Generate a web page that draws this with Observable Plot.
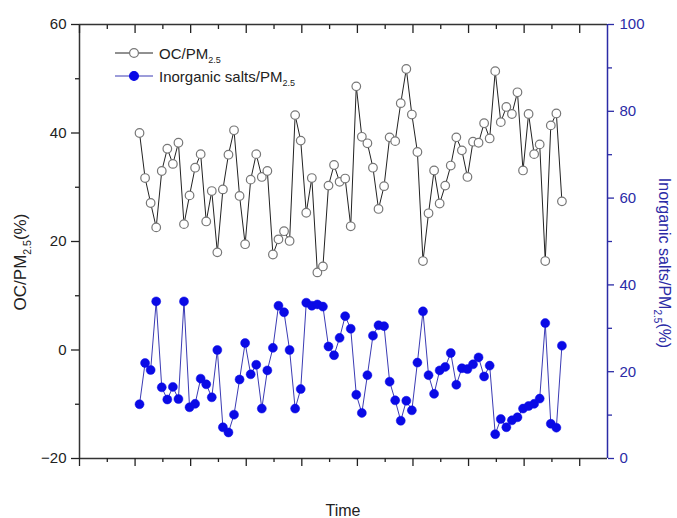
<!DOCTYPE html>
<html><head><meta charset="utf-8">
<script src="https://cdn.jsdelivr.net/npm/d3@7"></script>
<script src="https://cdn.jsdelivr.net/npm/@observablehq/plot@0.6"></script>
<style>body{margin:0;background:#fff;}#chart svg{display:block;}</style>
</head><body><div id="chart"></div>
<script>
// OC / PM2.5 (%) – left axis
const ocValues = [40.0, 31.7, 27.1, 22.6, 33.0, 37.1, 34.3, 38.2, 23.2, 28.5,
  33.6, 36.1, 23.7, 29.3, 18.0, 29.6, 36.0, 40.5, 28.4, 19.5,
  31.4, 36.1, 31.9, 33.0, 17.6, 20.4, 21.9, 20.1, 43.3, 38.6,
  25.3, 31.7, 14.3, 15.4, 30.3, 34.1, 31.0, 31.6, 22.8, 48.6,
  39.3, 38.1, 33.6, 26.0, 30.2, 39.2, 38.5, 45.5, 51.8, 43.4,
  36.5, 16.4, 25.2, 33.1, 27.0, 30.3, 34.0, 39.2, 36.8, 31.9,
  38.4, 38.2, 41.8, 39.0, 51.4, 42.0, 44.8, 43.5, 47.5, 33.1,
  43.5, 36.1, 37.9, 16.4, 41.4, 43.6, 27.4];
// Inorganic salts / PM2.5 (%) – right axis
const saltValues = [12.5, 22.0, 20.4, 36.2, 16.4, 13.6, 16.5, 13.7, 36.2, 11.8,
  12.6, 18.4, 17.1, 14.1, 25.0, 7.2, 6.0, 10.1, 18.2, 26.6,
  19.4, 21.6, 11.5, 20.3, 25.5, 35.2, 33.7, 25.0, 11.5, 16.0,
  35.9, 35.2, 35.5, 35.0, 25.8, 23.8, 27.8, 32.8, 29.9, 14.7,
  10.5, 19.2, 28.3, 30.7, 30.5, 17.7, 13.4, 8.7, 13.3, 11.1,
  22.1, 33.9, 19.2, 14.9, 20.3, 21.1, 24.3, 17.0, 20.8, 20.6,
  21.7, 23.3, 18.9, 21.4, 5.6, 9.1, 7.2, 8.8, 9.5, 11.5,
  12.1, 12.6, 13.8, 31.2, 8.0, 7.1, 26.0];
const leftTicks = [-20, 0, 20, 40, 60];
const leftMinorTicks = [-10, 10, 30, 50];
const rightTicks = [0, 20, 40, 60, 80, 100];
const rightMinorTicks = [10, 30, 50, 70, 90];
const xDomain = [-9.8, 85.2];
const xMajorTicks = d3.range(-9.8, 85, 10);
const xMinorTicks = d3.range(-4.8, 80, 10);

const leftDomain = [-20, 60];
const rightDomain = [0, 100];
const toLeft = r => leftDomain[0] + (r - rightDomain[0]) * (leftDomain[1] - leftDomain[0]) / (rightDomain[1] - rightDomain[0]);
const toRight = l => rightDomain[0] + (l - leftDomain[0]) * (rightDomain[1] - rightDomain[0]) / (leftDomain[1] - leftDomain[0]);

const oc = ocValues.map((v, i) => ({t: i + 1, v}));
const salts = saltValues.map((v, i) => ({t: i + 1, v: toLeft(v)}));

const AX = "#333";
const BLUE_AX = "#2b2ba6";
const BLUE = "#0a0ae6";
const FONT = "Arial, 'Liberation Sans', sans-serif";
const blank = () => "";

const chart = Plot.plot({
  width: 677, height: 518,
  marginLeft: 79, marginRight: 70, marginTop: 24, marginBottom: 60,
  style: {fontFamily: FONT, fontSize: "15px", color: "#222", background: "#fff"},
  x: {domain: xDomain},
  y: {domain: leftDomain},
  marks: [
    Plot.lineY(salts, {x: "t", y: "v", stroke: "#3b3bb4", strokeWidth: 1}),
    Plot.dot(salts, {x: "t", y: "v", r: 4.5, fill: BLUE, stroke: BLUE, strokeWidth: 0.5}),
    Plot.lineY(oc, {x: "t", y: "v", stroke: "#222", strokeWidth: 1}),
    Plot.dot(oc, {x: "t", y: "v", r: 4.3, fill: "white", stroke: "#777", strokeWidth: 1.2}),
    // frame
    Plot.ruleY([leftDomain[0], leftDomain[1]], {stroke: AX, strokeWidth: 1.5}),
    Plot.ruleX([xDomain[0]], {stroke: AX, strokeWidth: 1.5}),
    Plot.ruleX([xDomain[1]], {stroke: BLUE_AX, strokeWidth: 1.5}),
    // left axis
    Plot.axisY(leftTicks, {anchor: "left", tickSize: 8, tickPadding: 5, fontSize: 15, label: null, color: "#222", strokeWidth: 1.3}),
    Plot.axisY(leftMinorTicks, {anchor: "left", tickSize: 4, tickFormat: blank, label: null, color: "#222", strokeWidth: 1.3}),
    // right axis
    Plot.axisY(rightTicks.map(toLeft), {anchor: "right", tickSize: 6, tickPadding: 6, fontSize: 15, label: null,
      tickFormat: d => String(Math.round(toRight(d))), color: BLUE_AX, strokeWidth: 1.3}),
    Plot.axisY(rightMinorTicks.map(toLeft), {anchor: "right", tickSize: 4, tickFormat: blank, label: null, color: BLUE_AX, strokeWidth: 1.3}),
    // bottom ticks
    Plot.axisX(xMajorTicks, {anchor: "bottom", tickSize: 8, tickFormat: blank, label: null, color: "#222", strokeWidth: 1.3}),
    Plot.axisX(xMinorTicks, {anchor: "bottom", tickSize: 4, tickFormat: blank, label: null, color: "#222", strokeWidth: 1.3}),
    // top ticks (inward)
    Plot.axisX(xMajorTicks, {anchor: "top", tickSize: -8, tickFormat: blank, label: null, color: "#222", strokeWidth: 1.3}),
    Plot.axisX(xMinorTicks, {anchor: "top", tickSize: -4, tickFormat: blank, label: null, color: "#222", strokeWidth: 1.3})
  ]
});
document.getElementById("chart").appendChild(chart);

const svg = d3.select(chart);
function richText(g, parts, size, subSize, anchor) {
  const t = g.append("text").attr("font-family", FONT).attr("font-size", size).attr("text-anchor", anchor);
  parts.forEach(p => {
    const s = t.append("tspan").text(p.text);
    if (p.sub) s.attr("font-size", subSize).attr("dy", size * 0.3);
    if (p.after) s.attr("dy", -size * 0.3);
  });
  return t;
}
// Left title
const lt = svg.append("g").attr("transform", "translate(26,262) rotate(-90)");
richText(lt, [{text: "OC/PM"}, {text: "2.5", sub: true}, {text: "(%)", after: true}], 17, 10.5, "middle")
  .attr("fill", "#222");
// Right title
const rt = svg.append("g").attr("transform", "translate(659,263) rotate(90)");
richText(rt, [{text: "Inorganic salts/PM"}, {text: "2.5", sub: true}, {text: "(%)", after: true}], 16, 10, "middle")
  .attr("fill", BLUE_AX);
// x title
svg.append("text").attr("x", 343).attr("y", 516).attr("text-anchor", "middle")
  .attr("font-family", FONT).attr("font-size", 16).attr("fill", "#222").text("Time");

// Legend
const lg = svg.append("g");
const rows = [
  {y: 53, label: "OC/PM", stroke: "#222", fill: "white", cstroke: "#777"},
  {y: 76, label: "Inorganic salts/PM", stroke: "#3b3bb4", fill: BLUE, cstroke: BLUE}
];
rows.forEach(r => {
  lg.append("line").attr("x1", 115).attr("x2", 153).attr("y1", r.y).attr("y2", r.y)
    .attr("stroke", r.stroke).attr("stroke-width", 1);
  lg.append("circle").attr("cx", 134).attr("cy", r.y).attr("r", 4.4)
    .attr("fill", r.fill).attr("stroke", r.cstroke).attr("stroke-width", 1.2);
  const g = lg.append("g").attr("transform", `translate(159,${r.y + 5.5})`);
  richText(g, [{text: r.label}, {text: "2.5", sub: true}], 15, 9, "start").attr("fill", "#222");
});
</script>
</body></html>
